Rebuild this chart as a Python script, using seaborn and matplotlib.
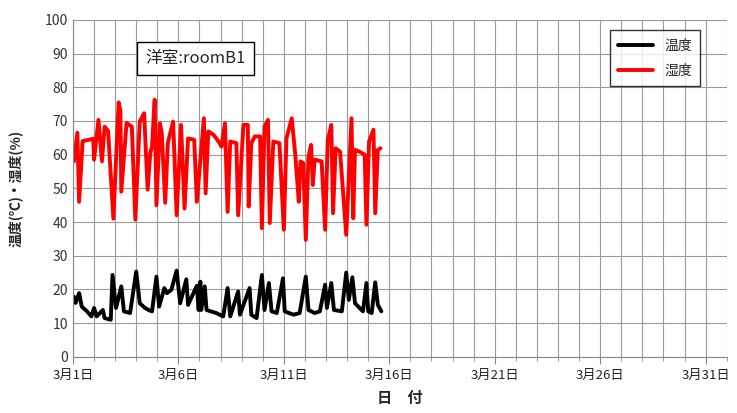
import pandas as pd
import seaborn as sns
import matplotlib.pyplot as plt
from matplotlib.ticker import MultipleLocator

# hours since 3/1 00:00 and readings
humid_hours = [1, 5, 7, 11, 23, 24, 29, 33, 36, 40, 46, 52, 54, 55, 61, 67, 71, 76, 81,
               85, 88, 90, 93, 95, 99, 101, 105, 108, 114, 118, 123, 127, 131, 138, 141,
               149, 151, 154, 160, 167, 169, 173, 176, 179, 186, 188, 194, 199, 200, 203,
               207, 213, 215, 218, 222, 224, 228, 235, 240, 243, 249, 253, 256, 257, 259,
               262, 265, 268, 271, 273, 275, 283, 287, 290, 294, 296, 299, 304, 311, 317,
               319, 321, 326, 332, 334, 337, 342, 344, 347, 350]
humid_vals = [58, 66.5, 46, 64, 64.7, 58.5, 70.3, 58, 68.3, 67, 41, 75.5, 73, 49, 69.4,
              68.3, 40.7, 69.8, 72.3, 49.6, 60.5, 62.4, 76.3, 45, 69.3, 66.5, 45.7, 63.5,
              69.8, 42, 68.8, 44, 64.8, 64.4, 46, 70.8, 48.5, 66.9, 65.9, 63.4, 62.4, 69.3,
              43, 63.9, 63.4, 42, 68.8, 68.8, 44.6, 63.4, 65.4, 65.4, 38.2, 68.3, 70.3,
              39.7, 63.9, 63.4, 37.7, 64.8, 70.8, 60, 49.6, 46, 58, 57.5, 34.7, 59.4, 62.9,
              51, 58.5, 58, 37.7, 64.4, 68.8, 42.6, 61.9, 60.9, 36.2, 70.8, 41.1, 61.4,
              60.9, 60, 39.2, 63.9, 67.4, 42.6, 61.4, 61.9]

temp_hours = [1, 3, 7, 10, 16, 21, 24, 27, 34, 36, 43, 45, 49, 55, 58, 65, 72, 76, 82,
              86, 90, 95, 98, 104, 107, 112, 118, 122, 129, 131, 141, 143, 145, 146, 150,
              152, 163, 171, 176, 179, 188, 190, 201, 203, 209, 215, 218, 223, 226, 232,
              239, 241, 251, 258, 265, 268, 275, 281, 287, 289, 294, 297, 306, 311, 314,
              318, 321, 330, 334, 336, 340, 344, 347, 351]
temp_vals = [17.9, 16, 18.9, 14.9, 13.5, 12, 14.5, 12, 13.9, 11.5, 11, 24.3, 14.5, 20.9,
             13.5, 13, 25.3, 15.9, 14.5, 13.9, 13.5, 23.8, 14.9, 20.4, 18.9, 19.9, 25.6,
             15.9, 23, 15.4, 21.1, 13.9, 22.3, 13.9, 20.9, 13.9, 13, 12, 20.4, 12, 19.4,
             12.5, 20.4, 12.5, 11.5, 24.3, 13.9, 21.9, 13.5, 13, 23.3, 13.5, 12.5, 13,
             23.8, 13.9, 13, 13.5, 21.4, 14.5, 21.9, 13.9, 13.5, 25, 16.9, 23.6, 15.9,
             13.5, 21.9, 13.5, 13, 22.1, 15.4, 13.5]

tick_days = [0, 5, 10, 15, 20, 25, 30]
tick_labels = ['3月1日', '3月6日', '3月11日', '3月16日', '3月21日', '3月26日', '3月31日']

df = pd.concat([
    pd.DataFrame({'day': [h / 24 for h in temp_hours], 'value': temp_vals, 'series': '温度'}),
    pd.DataFrame({'day': [h / 24 for h in humid_hours], 'value': humid_vals, 'series': '湿度'}),
])

sns.set_style('white')
plt.rcParams['font.family'] = ['Noto Sans CJK JP', 'DejaVu Sans']

fig = plt.figure(figsize=(7.37, 4.13), dpi=100)
ax = fig.add_axes([0.099, 0.136, 0.887, 0.816])

sns.lineplot(data=df, x='day', y='value', hue='series', sort=False,
             palette={'温度': 'black', '湿度': '#ff0000'}, linewidth=2.8, ax=ax)

ax.set_xlim(0, 31)
ax.set_ylim(0, 100)
ax.set_xticks(tick_days)
ax.set_xticklabels(tick_labels, fontsize=9.5)
ax.xaxis.set_minor_locator(MultipleLocator(1))
ax.yaxis.set_major_locator(MultipleLocator(10))
ax.tick_params(axis='y', labelsize=10, length=0, colors='#333333')
ax.tick_params(axis='x', which='major', length=5, color='#888888', labelcolor='#222222')
ax.tick_params(axis='x', which='minor', length=3, color='#888888')
ax.tick_params(axis='x', bottom=True, which='both')
ax.grid(True, which='both', color='#9a9a9a', linewidth=0.8)
for side in ['top', 'right']:
    ax.spines[side].set_visible(False)
for side in ['left', 'bottom']:
    ax.spines[side].set_color('#888888')

ax.set_xlabel('日　付', fontsize=11, fontweight='bold', labelpad=6)
ax.set_ylabel('温度(℃)・湿度(%)', fontsize=10, fontweight='bold', labelpad=16)

ax.text(0.11, 0.885, '洋室:roomB1', transform=ax.transAxes, fontsize=12,
        va='center', ha='left',
        bbox=dict(boxstyle='square,pad=0.5', facecolor='white', edgecolor='black', linewidth=1))

leg = ax.legend(loc='upper right', bbox_to_anchor=(0.97, 0.99), fontsize=10,
                frameon=True, fancybox=False, handlelength=2.5, labelspacing=0.8,
                borderpad=0.6, title=None)
leg.get_frame().set_edgecolor('black')
leg.get_frame().set_linewidth(1)

fig.savefig('out.png', dpi=100)
